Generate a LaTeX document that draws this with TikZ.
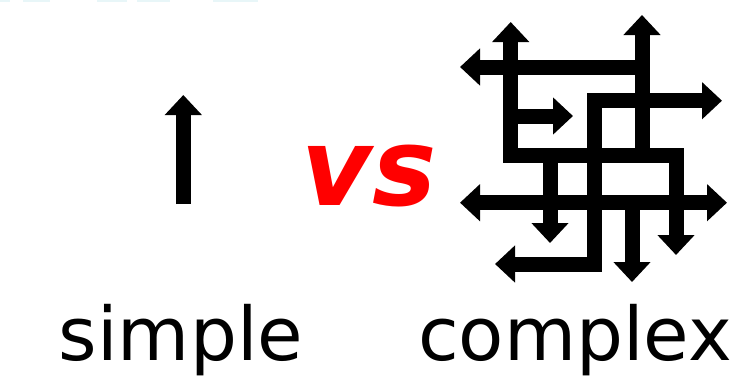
\documentclass[tikz,border=0pt]{standalone}
\usepackage{fontspec}
\setmainfont{DejaVu Sans}
\usetikzlibrary{arrows.meta}
\begin{document}
\begin{tikzpicture}[x=1pt,y=-1pt,
  bar/.style={line width=15pt, line join=miter, draw=black},
  >={Triangle[width=36pt,length=20pt]},
  label/.style={inner sep=0pt, anchor=base, font=\fontsize{74}{74}\selectfont},
  strip/.style={fill={rgb,255:red,232;green,246;blue,248}, draw=none}]
\useasboundingbox (0,0) rectangle (735,381);
\fill[white] (0,0) rectangle (735,381);

% faint strip along the top edge
\path[strip] (0,0) rectangle (10,1.5);
\path[strip] (23,0) rectangle (50,1.5);
\path[strip] (97,0) rectangle (127,1.5);
\path[strip] (137,0) rectangle (170,1.5);
\path[strip] (213,0) rectangle (258,1.5);

% the single arrow
\coordinate (s0) at (183.3,204);
\coordinate (s1) at (183.3,95);
\draw[bar,->] (s0) -- (s1);

% the tangle of arrows
\draw[bar,<->] (510.7,22) -- (510.7,155) -- (676,155) -- (676,255);
\draw[bar,<-] (460,67) -- (642,67);
\draw[bar,<-] (642,15) -- (642,155);
\draw[bar,->] (510.7,116) -- (573,116);
\draw[bar,<->] (722,100.7) -- (594,100.7) -- (594,264) -- (495,264);
\draw[bar,->] (550,155) -- (550,243);
\draw[bar,<->] (460,202.7) -- (727,202.7);
\draw[bar,->] (632,202.7) -- (632,282);

% labels
\node[label] (simple) at (181,360) {simple};
\node[label] (complex) at (575,360) {complex};
\node[inner sep=0pt, anchor=base, text=red,
      font=\fontsize{108}{108}\selectfont\bfseries\itshape] (vs) at (369,205) {vs};
\end{tikzpicture}
\end{document}
